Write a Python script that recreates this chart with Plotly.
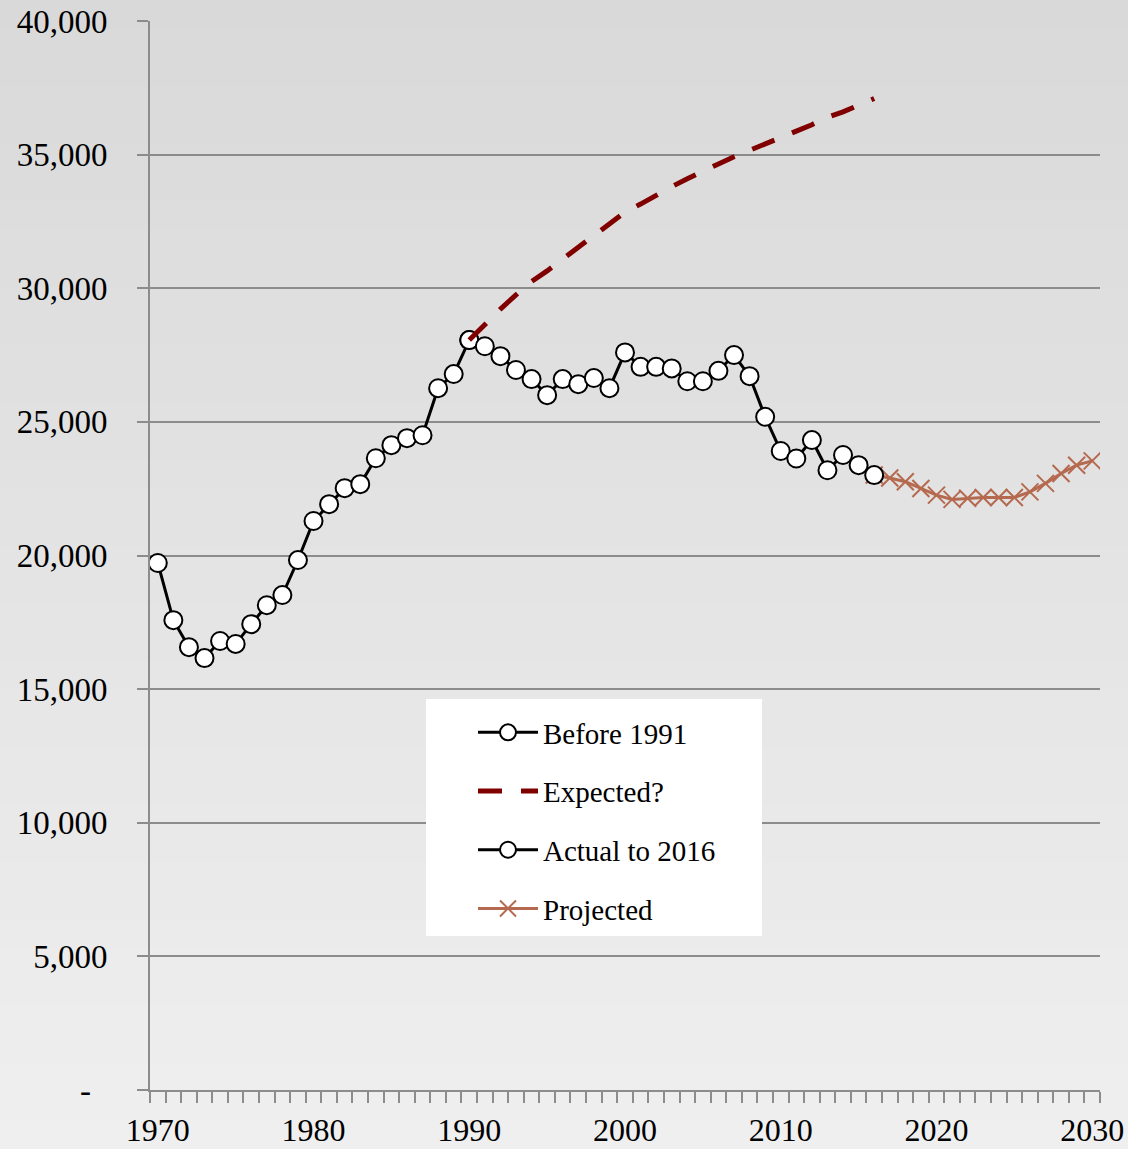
import plotly.graph_objects as go

# ---- data ----
before_years = list(range(1970, 1991))
before_vals = [19720, 17580, 16570, 16160, 16800, 16690, 17430, 18140, 18520, 19830,
               21290, 21920, 22520, 22670, 23640, 24130, 24390, 24500, 26260, 26790,
               28060]

actual_years = list(range(1990, 2017))
actual_vals = [28060, 27830, 27460, 26940, 26600, 26000, 26600, 26410, 26640, 26260,
               27600, 27060, 27060, 27000, 26520, 26520, 26910, 27500, 26710, 25190,
               23910, 23630, 24320, 23190, 23760, 23380, 23010]

expected_years = list(range(1990, 2017))
expected_vals = [28060, 28650, 29220, 29750, 30250, 30650, 31100, 31550, 32000, 32400,
                 32850, 33150, 33500, 33800, 34100, 34400, 34650, 34920, 35150, 35400,
                 35600, 35880, 36120, 36400, 36600, 36850, 37100]

projected_years = list(range(2016, 2031))
projected_vals = [23010, 22900, 22760, 22510, 22260, 22100, 22140, 22170, 22170, 22170,
                  22380, 22700, 23070, 23380, 23540]

y_tickvals = [0, 5000, 10000, 15000, 20000, 25000, 30000, 35000, 40000]
y_ticktext = ["-\u00a0\u00a0", "5,000", "10,000", "15,000", "20,000", "25,000",
              "30,000", "35,000", "40,000"]
x_tickvals = [1970, 1980, 1990, 2000, 2010, 2020, 2030]

FONT = "Liberation Serif"
GRID = "#8c8c8c"

fig = go.Figure()

fig.add_trace(go.Scatter(
    x=projected_years, y=projected_vals, name="Projected", mode="lines+markers",
    line=dict(color="#B5694F", width=3),
    marker=dict(symbol="x-thin", size=17, line=dict(color="#B5694F", width=2)),
    legendrank=4, legendgroup="d"))

fig.add_trace(go.Scatter(
    x=before_years, y=before_vals, name="Before 1991", mode="lines+markers",
    line=dict(color="black", width=3),
    marker=dict(symbol="circle", size=18, color="white", line=dict(color="black", width=2)),
    legendrank=1, legendgroup="a"))

fig.add_trace(go.Scatter(
    x=actual_years, y=actual_vals, name="Actual to 2016", mode="lines+markers",
    line=dict(color="black", width=3),
    marker=dict(symbol="circle", size=18, color="white", line=dict(color="black", width=2)),
    legendrank=3, legendgroup="c"))

fig.add_trace(go.Scatter(
    x=expected_years, y=expected_vals, name="Expected?", mode="lines",
    line=dict(color="#800000", width=5, dash="24px,19px"),
    legendrank=2, legendgroup="b"))

# background gradient (paper), drawn below the plot area
shapes = []
H = 1149
n = 40
for i in range(n):
    t = i / (n - 1)
    c = int(round(217 + (239 - 217) * t))
    py0 = H * i / n
    py1 = H * (i + 1) / n + 1
    shapes.append(dict(type="rect", xref="paper", yref="paper", layer="below",
                       x0=-0.3, x1=1.2,
                       y0=(1090 - py1) / 1069, y1=(1090 - py0) / 1069,
                       fillcolor=f"rgb({c},{c},{c})", line=dict(width=0)))
# legend box
shapes.append(dict(type="rect", xref="paper", yref="paper", layer="above",
                   x0=(426 - 150) / 950, x1=(762 - 150) / 950,
                   y0=(1090 - 936) / 1069, y1=(1090 - 699) / 1069,
                   fillcolor="white", line=dict(width=0)))

fig.update_layout(
    width=1128, height=1149,
    margin=dict(l=150, r=28, t=21, b=59, autoexpand=False),
    paper_bgcolor="rgb(239,239,239)",
    plot_bgcolor="#d9d9d9",
    font=dict(family=FONT, size=33, color="black"),
    shapes=shapes,
    showlegend=True,
    legend=dict(x=(473 - 150) / 950, y=(1090 - 707) / 1069, xanchor="left", yanchor="top",
                bgcolor="rgba(0,0,0,0)", borderwidth=0,
                font=dict(family=FONT, size=29, color="black"),
                tracegroupgap=18, itemwidth=60, traceorder="grouped"),
    xaxis=dict(
        range=[1969.5, 2030.5], tickmode="array", tickvals=x_tickvals,
        ticks="outside", ticklen=0, tickcolor="rgba(0,0,0,0)",
        showgrid=False, zeroline=False, automargin=False,
        showline=True, linecolor=GRID, linewidth=2,
        tickfont=dict(family=FONT, size=32),
        ticklabelstandoff=11,
        minor=dict(tick0=1969.5, dtick=1, ticks="outside", ticklen=11,
                   tickcolor=GRID, tickwidth=2, showgrid=False),
    ),
    yaxis=dict(
        range=[0, 40000], tickmode="array", tickvals=y_tickvals, ticktext=y_ticktext,
        ticks="outside", ticklen=11, tickcolor=GRID, tickwidth=2,
        showgrid=True, gridcolor=GRID, gridwidth=1.5, zeroline=False, automargin=False,
        showline=True, linecolor=GRID, linewidth=2,
        tickfont=dict(family=FONT, size=33),
        ticklabelstandoff=23,
    ),
)

fig.write_html("out.html", config={"displayModeBar": False},
               post_script="document.body.style.margin='0px';document.body.style.overflow='hidden';")
